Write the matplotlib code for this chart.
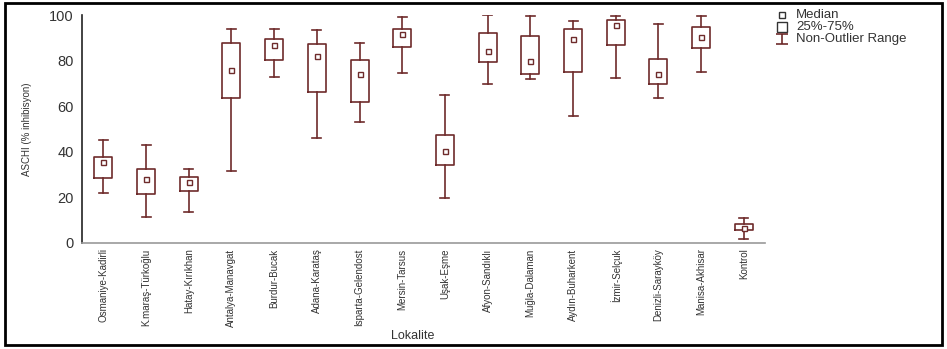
import matplotlib
matplotlib.use('Agg')
import matplotlib.pyplot as plt
from matplotlib.lines import Line2D
from matplotlib.patches import Rectangle
from matplotlib.path import Path

# Values
sites = ['Osmaniye-Kadirli', 'K.maraş-Türkoğlu', 'Hatay-Kırıkhan', 'Antalya-Manavgat',
         'Burdur-Bucak', 'Adana-Karataş', 'Isparta-Gelendost', 'Mersin-Tarsus',
         'Uşak-Eşme', 'Afyon-Sandıklı', 'Muğla-Dalaman', 'Aydın-Buharkent',
         'İzmir-Selçuk', 'Denizli-Sarayköy', 'Manisa-Akhisar', 'Kontrol']
whis_lo = [21.8, 11.3, 13.5, 31.4, 72.7, 45.9, 52.9, 74.4, 19.9, 69.6, 72.1, 55.6, 72.4, 63.5, 75.0, 1.8]
q1 = [28.4, 21.5, 22.7, 63.5, 80.3, 66.4, 61.8, 85.8, 34.1, 79.5, 74.0, 75.0, 86.8, 69.7, 85.4, 5.6]
median = [35.4, 28.1, 26.8, 76.0, 86.7, 81.9, 74.1, 91.5, 40.4, 84.1, 80.0, 89.5, 95.5, 74.3, 90.2, 6.6]
q3 = [37.7, 32.3, 28.9, 87.9, 89.6, 87.4, 80.4, 93.7, 47.4, 92.2, 90.9, 94.0, 97.9, 80.6, 94.9, 8.2]
whis_hi = [45.0, 43.1, 32.3, 94.0, 93.7, 93.4, 87.6, 99.0, 64.9, 99.9, 99.6, 97.5, 99.7, 95.9, 99.4, 11.1]

legend_labels = ['Median', '25%-75%', 'Non-Outlier Range']

box_color = '#6e2b2b'
text_color = '#333333'
plt.rcParams['font.family'] = ['Liberation Sans', 'DejaVu Sans']

W, H = 947, 349
fig = plt.figure(figsize=(9.47, 3.49), dpi=100)
ax = fig.add_axes([0.0866, 0.304, 0.7214, 0.653])

stats = []
for i in range(len(sites)):
    stats.append({'med': median[i], 'q1': q1[i], 'q3': q3[i],
                  'whislo': whis_lo[i], 'whishi': whis_hi[i], 'fliers': []})

pos = list(range(len(sites)))
ax.bxp(stats, positions=pos, widths=0.42, showfliers=False,
       boxprops=dict(color=box_color, linewidth=1.2),
       whiskerprops=dict(color=box_color, linewidth=1.2),
       capprops=dict(color=box_color, linewidth=1.2),
       medianprops=dict(linewidth=0))
ax.plot(pos, median, ls='', marker='s', ms=3.6, mfc='white', mec=box_color, mew=1.0)

ax.set_xlim(-0.5, 15.5)
ax.set_ylim(0, 100)
ax.set_yticks([0, 20, 40, 60, 80, 100])
ax.set_xticks(pos)
ax.set_xticklabels(sites, rotation=90, fontsize=7, color=text_color)
ax.tick_params(axis='both', length=0)
ax.tick_params(axis='y', pad=6, labelsize=10.5, labelcolor=text_color)
ax.tick_params(axis='x', pad=4)

for s in ['top', 'right']:
    ax.spines[s].set_visible(False)
ax.spines['left'].set_color('#222222')
ax.spines['left'].set_linewidth(1.2)
ax.spines['bottom'].set_color('#999999')
ax.spines['bottom'].set_linewidth(1.2)

ax.set_ylabel('ASCHI (% inhibisyon)', fontsize=7, color=text_color, labelpad=12)
fig.text(413 / W, 1 - 336 / H, 'Lokalite', ha='center', va='center',
         fontsize=9, color=text_color)

# legend drawn by hand: symbol column + text column
ibeam = Path([(-0.6, -0.5), (0.6, -0.5), (0, -0.5), (0, 0.5), (-0.6, 0.5), (0.6, 0.5)],
             [Path.MOVETO, Path.LINETO, Path.MOVETO, Path.LINETO, Path.MOVETO, Path.LINETO])
symbols = [dict(marker='s', ms=3.8, mfc='none', mec=text_color, mew=1.0),
           dict(marker='s', ms=7, mfc='none', mec=text_color, mew=1.0),
           dict(marker=ibeam, ms=8.6, mec=box_color, mew=1.2)]
row_y = [15, 27, 39]
for lab, sym, yy in zip(legend_labels, symbols, row_y):
    fig.add_artist(Line2D([782 / W], [1 - yy / H], ls='', transform=fig.transFigure, **sym))
    fig.text(796 / W, 1 - yy / H, lab, ha='left', va='center', fontsize=9.5,
             color=text_color)

fig.add_artist(Rectangle((5 / W, 4 / H), 937 / W, 342 / H,
                         transform=fig.transFigure, fill=False, ec='black', lw=2))

fig.savefig('out.png', dpi=100)
